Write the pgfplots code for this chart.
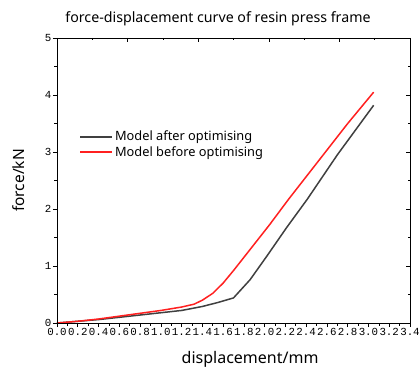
\documentclass[border=0pt]{standalone}
\usepackage{pgfplots}
\pgfplotsset{compat=1.18}
\usepackage{fontspec}
\setmainfont{Noto Sans}
\newfontfamily\tickfont{Liberation Mono}
\definecolor{dgray}{HTML}{404040}
\definecolor{myred}{HTML}{FF2020}
\begin{document}
\begin{tikzpicture}
\useasboundingbox (-57pt,-48pt) rectangle (362pt,323pt);
\begin{axis}[
  scale only axis, width=353pt, height=285pt,
  xmin=0, xmax=3.4, ymin=0, ymax=5,
  xtick={0,0.2,0.4,0.6,0.8,1.0,1.2,1.4,1.6,1.8,2.0,2.2,2.4,2.6,2.8,3.0,3.2,3.4},
  minor x tick num=1,
  ytick={0,1,2,3,4,5}, minor y tick num=1,
  xtick pos=bottom, ytick pos=left, tick align=outside,
  major tick length=4pt, minor tick length=2.5pt,
  tick style={black, line width=0.6pt},
  axis line style={black, line width=0.8pt},
  /pgf/number format/assume math mode=true,
  xticklabel style={/pgf/number format/.cd, fixed, fixed zerofill, precision=1},
  ticklabel style={font=\tickfont\fontsize{10.8}{12}\selectfont, inner sep=1.5pt},
  yticklabel style={/pgf/number format/.cd, fixed, precision=0},
  xlabel={displacement/mm}, ylabel={force/kN},
  xlabel style={at={(axis description cs:0.547,-0.127)}, anchor=center, font=\fontsize{16}{18}\selectfont},
  ylabel style={at={(axis description cs:-0.11,0.5)}, anchor=center, font=\fontsize{15.5}{18}\selectfont},
  title={force-displacement curve of resin press frame},
  title style={at={(axis description cs:0.456,1.045)}, anchor=center, font=\fontsize{14.2}{17}\selectfont},
  legend style={draw=none, fill=none, at={(axis description cs:0.055,0.688)}, anchor=north west,
    font=\fontsize{12.8}{14}\selectfont},
  legend cell align=left,
  legend image code/.code={\draw[mark repeat=2,mark phase=2,#1] plot coordinates {(0pt,0pt) (16pt,0pt) (32pt,0pt)};},
]
\addplot[color=dgray, line width=1.5pt] coordinates {
(0,0) (0.2,0.03) (0.4,0.06) (0.6,0.10) (0.8,0.14) (1.0,0.18) (1.2,0.22) (1.4,0.29) (1.55,0.36) (1.7,0.44)
(1.86,0.76) (2.02,1.17) (2.21,1.67) (2.41,2.17) (2.7,2.95) (3.05,3.82)};
\addlegendentry{Model after optimising}
\addplot[color=myred, line width=1.5pt] coordinates {
(0,0) (0.2,0.03) (0.4,0.07) (0.6,0.12) (0.8,0.17) (1.0,0.22) (1.2,0.28) (1.32,0.33) (1.4,0.40) (1.5,0.52)
(1.6,0.70) (1.7,0.92) (1.86,1.29) (2.05,1.73) (2.23,2.17) (2.5,2.8) (2.8,3.5) (3.05,4.05)};
\addlegendentry{Model before optimising}
\end{axis}
\begin{axis}[
  scale only axis, width=353pt, height=285pt,
  xmin=0, xmax=3.4, ymin=0, ymax=5,
  xtick={0,0.68,1.36,2.04,2.72,3.4},
  minor xtick={0.34,1.02,1.7,2.38,3.06},
  ytick={0,1,2,3,4,5}, minor ytick={0.5,1.5,2.5,3.5,4.5},
  xtick pos=top, ytick pos=right, tick align=inside,
  major tick length=4pt, minor tick length=2.5pt,
  tick style={black, line width=0.6pt},
  axis line style={black, line width=0.8pt},
  xticklabels={}, yticklabels={},
]
\end{axis}
\end{tikzpicture}
\end{document}
